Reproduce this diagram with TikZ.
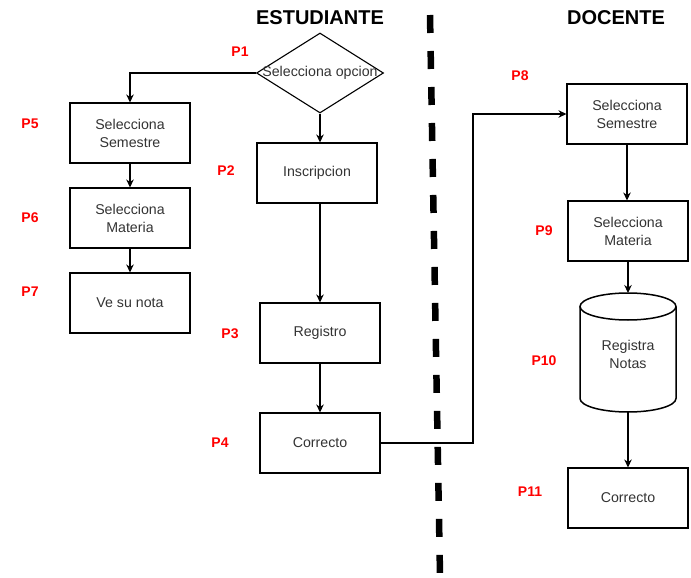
\documentclass[tikz,border=0pt]{standalone}
\usepackage{fontspec}
\setmainfont{Liberation Sans}
\usetikzlibrary{shapes.geometric,arrows.meta}
\begin{document}
\begin{tikzpicture}[x=1pt,y=-1pt,
  box/.style={draw,line width=1.1pt,minimum width=120pt,minimum height=60pt,align=center,text=black!80,font=\fontsize{14.2}{18}\selectfont,inner sep=0pt},
  lbl/.style={text=red,font=\bfseries\fontsize{14}{16}\selectfont},
  hdr/.style={font=\bfseries\fontsize{20}{22}\selectfont},
  cyl/.style={line width=1.5pt},
  arr/.style={-{Stealth[length=8pt,width=7.5pt]},line width=1.1pt}]
\useasboundingbox (0,0) rectangle (691,578);
\node[hdr] (h1) at (320,18) {ESTUDIANTE};
\node[hdr] (h2) at (616,18) {DOCENTE};
\coordinate (dtop) at (430,15);
\coordinate (dbot) at (440,575);
\draw[line width=6.5pt,dash pattern=on 18pt off 18pt] (dtop) -- (dbot);
% student
\node[diamond,draw,line width=1.1pt,minimum width=127pt,minimum height=80pt,aspect=1.6,inner sep=0pt] (d1) at (320,73) {};
\node[text=black!80,font=\fontsize{14.2}{17}\selectfont] (t1) at (d1.center) {Selecciona opcion};
\node[lbl] (p1) at (240,52) {P1};
\node[box] (b5) at (130,133) {Selecciona\\Semestre};
\node[box] (b6) at (130,218) {Selecciona\\Materia};
\node[box] (b7) at (130,303) {Ve su nota};
\node[lbl] (p5) at (30,124) {P5};
\node[lbl] (p6) at (30,218) {P6};
\node[lbl] (p7) at (30,292) {P7};
\node[box] (b2) at (317,173) {Inscripcion};
\node[box] (b3) at (320,333) {Registro};
\node[box] (b4) at (320,443) {Correcto};
\node[lbl] (p2) at (226,171) {P2};
\node[lbl] (p3) at (230,334) {P3};
\node[lbl] (p4) at (220,443) {P4};
\draw[arr] (d1.west) -| (b5.north);
\draw[arr] (b5) -- (b6);
\draw[arr] (b6) -- (b7);
\draw[arr] (d1.south) -- (d1.south |- b2.north);
\draw[arr] (b3.north |- b2.south) -- (b3.north);
\draw[arr] (b3) -- (b4);
% teacher
\node[box] (b8) at (627,114) {Selecciona\\Semestre};
\node[box] (b9) at (628,231) {Selecciona\\Materia};
% cylinder drawn directly
\coordinate (ctop) at (628,293);
\coordinate (cbot) at (628,412);
\draw[cyl] (628,306.5) ellipse [x radius=48, y radius=13.5];
\draw[cyl] (580,306.5) -- (580,398.5) arc[start angle=180,end angle=0,x radius=48,y radius=13.5] -- (676,306.5);
\node[text=black!80,font=\fontsize{14.2}{18}\selectfont,align=center] (t10) at (628,354) {Registra\\Notas};
\node[box] (b11) at (628,498) {Correcto};
\node[lbl] (p8) at (520,76) {P8};
\node[lbl] (p9) at (544,231) {P9};
\node[lbl] (p10) at (544,361) {P10};
\node[lbl] (p11) at (530,492) {P11};
\coordinate (m1) at (473,443);
\coordinate (m2) at (473,114);
\draw[arr] (b4.east) -- (m1) -- (m2) -- (b8.west);
\draw[arr] (b8.south) -- (b8.south |- b9.north);
\draw[arr] (b9.south -| ctop) -- (ctop);
\draw[arr] (cbot) -- (cbot |- b11.north);
\end{tikzpicture}
\end{document}
